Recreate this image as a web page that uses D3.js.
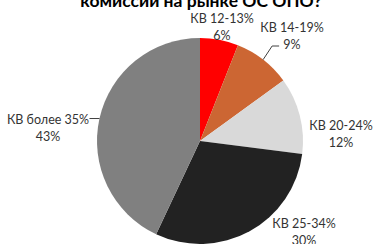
<!DOCTYPE html>
<html>
<head>
<meta charset="utf-8">
<script src="https://cdn.jsdelivr.net/npm/d3@7"></script>
<style>
  body { margin: 0; background: #fff; }
  text { font-family: Lato, "Open Sans", sans-serif; fill: #333; }
</style>
</head>
<body>
<div id="chart"></div>
<script>
// Data
var categories = ["КВ 12-13%", "КВ 14-19%", "КВ 20-24%", "КВ 25-34%", "КВ более 35%"];
var shares = [6, 9, 12, 30, 43];
var colors = ["#ff0000", "#cc6633", "#d9d9d9", "#222222", "#808080"];

var svgWidth = 373;
var svgHeight = 244;
var center = { x: 200, y: 141 };
var radius = 103;

// label offsets relative to the pie centre
var labelPos = [
    { x: 22, y: -116 },
    { x: 92, y: -107 },
    { x: 141, y: -9 },
    { x: 104, y: 89 },
    { x: -152, y: -15 }
];

var svg = d3.select("#chart")
    .append("svg")
    .attr("width", svgWidth)
    .attr("height", svgHeight);

// title, cut off at the top like the original
svg.append("text")
    .attr("x", 201)
    .attr("y", 7)
    .attr("text-anchor", "middle")
    .style("font-size", "17.5px")
    .style("font-weight", "bold")
    .style("fill", "#000")
    .text("комиссии на рынке ОС ОПО?");

var pieGroup = svg.append("g")
    .attr("transform", `translate(${center.x}, ${center.y})`);

var pie = d3.pie().sort(null);
var arc = d3.arc().innerRadius(0).outerRadius(radius);

var slices = pie(shares);

pieGroup.selectAll("path.slice")
    .data(slices)
    .enter()
    .append("path")
    .attr("class", "slice")
    .attr("d", arc)
    .attr("fill", (d, i) => colors[i]);

// point on the pie rim, part way through a slice
function edgePoint(d, frac) {
    var a = d.startAngle + (d.endAngle - d.startAngle) * frac;
    return [Math.sin(a) * radius, -Math.cos(a) * radius];
}

// leader lines for the two labels that sit away from their slice
var p1 = edgePoint(slices[1], 0.5);
var p4 = edgePoint(slices[4], 0.5);
var leaders = [
    [p1, [p1[0] + 9, -95], [p1[0] + 16, -95]],
    [p4, [p4[0] - 10, p4[1]]]
];

var line = d3.line();
pieGroup.selectAll("path.leader")
    .data(leaders)
    .enter()
    .append("path")
    .attr("class", "leader")
    .attr("d", line)
    .attr("fill", "none")
    .attr("stroke", "#404040")
    .attr("stroke-width", 1);

var labels = pieGroup.selectAll(".lbl")
    .data(slices)
    .enter()
    .append("text")
    .attr("class", "lbl")
    .attr("text-anchor", "middle")
    .style("font-size", "12.5px")
    .attr("transform", (d, i) => `translate(${labelPos[i].x}, ${labelPos[i].y})`);

labels.append("tspan")
    .attr("x", 0)
    .attr("dy", "-0.2em")
    .text((d, i) => categories[i]);

labels.append("tspan")
    .attr("x", 0)
    .attr("dy", "1.4em")
    .text(d => d.data + "%");
</script>
</body>
</html>
